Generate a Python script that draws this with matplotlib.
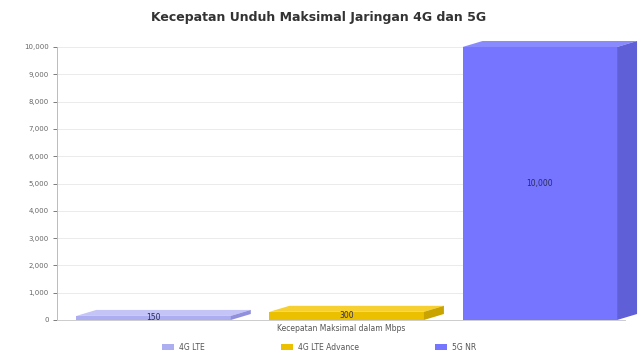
import matplotlib.pyplot as plt
from matplotlib.patches import Polygon, Patch
import numpy as np

title = "Kecepatan Unduh Maksimal Jaringan 4G dan 5G"
x_label = "Kecepatan Maksimal dalam Mbps"
series_names = ["4G LTE", "4G LTE Advance", "5G NR"]
values = [150, 300, 10000]
value_labels = ["150", "300", "10,000"]
y_ticks = [0, 1000, 2000, 3000, 4000, 5000, 6000, 7000, 8000, 9000, 10000]
y_tick_labels = ["0", "1,000", "2,000", "3,000", "4,000", "5,000", "6,000",
                 "7,000", "8,000", "9,000", "10,000"]

front_colors = ["#ADADF2", "#EBC000", "#7575FF"]
top_colors = ["#C4C4F7", "#F5D030", "#8A8AFF"]
side_colors = ["#9090DC", "#C9A400", "#5F5FD8"]

W, H = 638, 353
fig = plt.figure(figsize=(W / 100, H / 100), dpi=100)
ax_l, ax_r, ax_b, ax_t = 57, 625, 320, 47
ax = fig.add_axes([ax_l / W, 1 - ax_b / H, (ax_r - ax_l) / W, (ax_b - ax_t) / H])

ymax = 10000
ax.set_xlim(0, 1)
ax.set_ylim(0, ymax)

# depth of the 3D effect in pixels -> data units
dx = 20 / (ax_r - ax_l) * 1.0
dy = 6 / (ax_b - ax_t) * ymax

centers = 0.51 + (np.arange(len(values)) - 1) * 0.34
width = 0.272

handles = []
for i, (c, v) in enumerate(zip(centers, values)):
    x0, x1 = c - width / 2, c + width / 2
    ax.add_patch(Polygon([(x0, 0), (x1, 0), (x1, v), (x0, v)], closed=True,
                         facecolor=front_colors[i], edgecolor="none", zorder=3, clip_on=False))
    ax.add_patch(Polygon([(x0, v), (x1, v), (x1 + dx, v + dy), (x0 + dx, v + dy)], closed=True,
                         facecolor=top_colors[i], edgecolor="none", zorder=3, clip_on=False))
    ax.add_patch(Polygon([(x1, 0), (x1 + dx, dy), (x1 + dx, v + dy), (x1, v)], closed=True,
                         facecolor=side_colors[i], edgecolor="none", zorder=3, clip_on=False))
    ax.text(c, v / 2, value_labels[i], ha="center", va="center", fontsize=5.5,
            color="#2a2a5a", zorder=4)
    handles.append(Patch(facecolor=front_colors[i], edgecolor="none", label=series_names[i]))

ax.set_yticks(y_ticks)
ax.set_yticklabels(y_tick_labels)
ax.set_xticks([])
ax.tick_params(axis="y", labelsize=5, colors="#666666", length=3, width=0.6, pad=3)
ax.grid(axis="y", color="#ebebeb", linewidth=0.7, zorder=0)
ax.set_axisbelow(True)
for s in ["top", "right"]:
    ax.spines[s].set_visible(False)
ax.spines["left"].set_color("#bbbbbb")
ax.spines["left"].set_linewidth(0.7)
ax.spines["bottom"].set_color("#cccccc")
ax.spines["bottom"].set_linewidth(0.7)

ax.set_xlabel(x_label, fontsize=5.5, color="#555555", labelpad=3)
fig.text(0.5, 1 - 17 / H, title, ha="center", va="center", fontsize=9,
         color="#333333", fontweight="bold")

leg = fig.legend(handles=handles, loc="center", bbox_to_anchor=(0.5, 1 - 347 / H), ncol=3,
                 frameon=False, fontsize=5.5, handlelength=1.6, handleheight=0.8,
                 columnspacing=10, handletextpad=0.6)
for t in leg.get_texts():
    t.set_color("#555555")

fig.savefig("out.png", dpi=100)
